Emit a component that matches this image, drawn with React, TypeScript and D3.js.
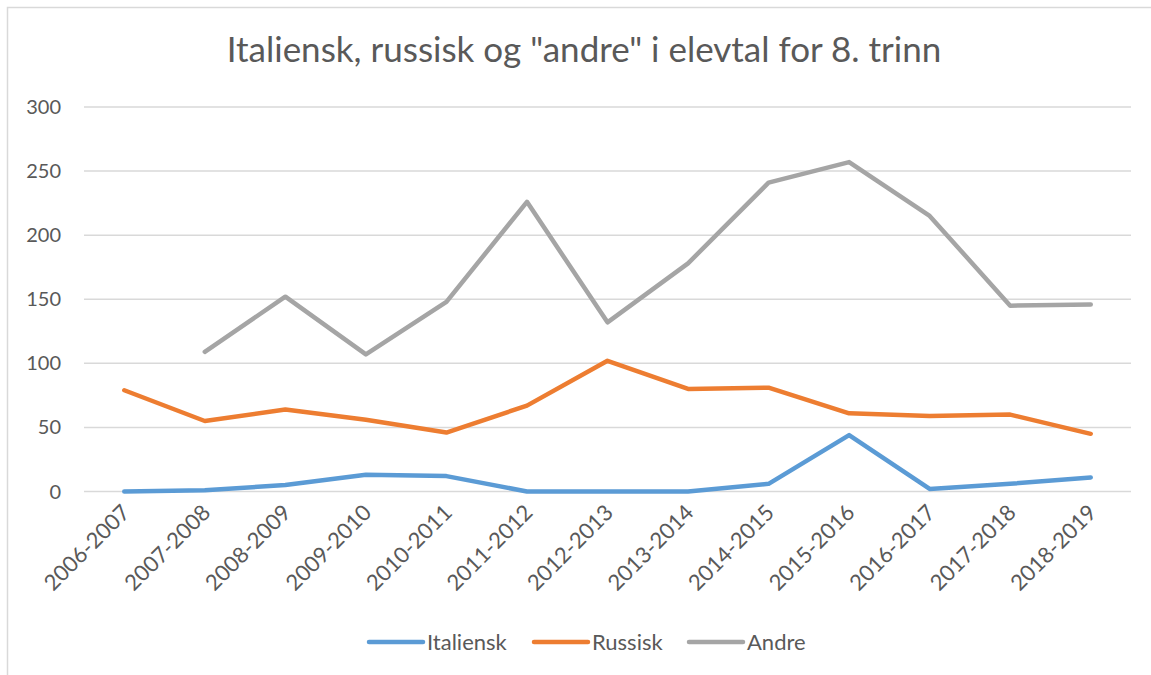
import React, { useEffect, useRef } from 'react'
import * as d3 from 'd3'

const years = ['2006-2007', '2007-2008', '2008-2009', '2009-2010', '2010-2011', '2011-2012', '2012-2013',
  '2013-2014', '2014-2015', '2015-2016', '2016-2017', '2017-2018', '2018-2019']
const italiensk = [0, 1, 5, 13, 12, 0, 0, 0, 6, 44, 2, 6, 11]
const russisk = [79, 55, 64, 56, 46, 67, 102, 80, 81, 61, 59, 60, 45]
const andre: (number | null)[] = [null, 109, 152, 107, 148, 226, 132, 178, 241, 257, 215, 145, 146]
const yTicks = [0, 50, 100, 150, 200, 250, 300]

const series = [
  { name: 'Italiensk', values: italiensk, color: '#5B9BD5' },
  { name: 'Russisk', values: russisk, color: '#ED7D31' },
  { name: 'Andre', values: andre, color: '#A5A5A5' },
]

const font = 'Lato, "Open Sans", sans-serif'
const txt = '#595959'

export default function App() {
  const ref = useRef<SVGSVGElement>(null)

  useEffect(() => {
    const svg = d3.select(ref.current)
    svg.selectAll('*').remove()

    // chart frame (only top and left edges show in the picture)
    svg.append('path').attr('d', 'M7.5,675V7.5H1151')
      .attr('fill', 'none').attr('stroke', '#d9d9d9').attr('stroke-width', 1.5)

    const x = d3.scaleBand().domain(years).range([84, 1131])
    const y = d3.scaleLinear().domain([0, 300]).range([491.5, 107])
    const cx = (d: string) => (x(d) as number) + x.bandwidth() / 2

    svg.append('text').attr('x', 584).attr('y', 62).attr('text-anchor', 'middle')
      .attr('font-family', font).attr('font-size', 35).attr('fill', txt)
      .text('Italiensk, russisk og "andre" i elevtal for 8. trinn')

    const grid = svg.append('g')
    grid.selectAll('line').data(yTicks).enter().append('line')
      .attr('x1', 84).attr('x2', 1131)
      .attr('y1', d => y(d)).attr('y2', d => y(d))
      .attr('stroke', '#d9d9d9').attr('stroke-width', 1.5)
    grid.selectAll('text').data(yTicks).enter().append('text')
      .attr('x', 61).attr('y', d => y(d) + 7).attr('text-anchor', 'end')
      .attr('font-family', font).attr('font-size', 20).attr('fill', txt)
      .text(d => d)

    svg.append('g').selectAll('text').data(years).enter().append('text')
      .attr('transform', d => `translate(${cx(d) + 7},${514}) rotate(-45)`)
      .attr('text-anchor', 'end')
      .attr('font-family', font).attr('font-size', 22).attr('fill', txt)
      .text(d => d)

    const line = d3.line<number | null>()
      .defined(d => d !== null)
      .x((_, i) => cx(years[i]))
      .y(d => y(d as number))

    series.forEach(s => {
      svg.append('path').datum(s.values).attr('d', line)
        .attr('fill', 'none').attr('stroke', s.color).attr('stroke-width', 4.5)
        .attr('stroke-linejoin', 'round').attr('stroke-linecap', 'round')
    })

    const legX = [369, 534, 689]
    const leg = svg.append('g').selectAll('g').data(series).enter().append('g')
      .attr('transform', (_, i) => `translate(${legX[i]},642)`)
    leg.append('line').attr('x1', 0).attr('x2', 54).attr('stroke', d => d.color)
      .attr('stroke-width', 4.5).attr('stroke-linecap', 'round')
    leg.append('text').attr('x', 58).attr('y', 8)
      .attr('font-family', font).attr('font-size', 22).attr('fill', txt)
      .text(d => d.name)
  }, [])

  return (
    <svg ref={ref} width={1151} height={675} style={{ position: 'absolute', left: 0, top: 0 }}></svg>
  )
}
